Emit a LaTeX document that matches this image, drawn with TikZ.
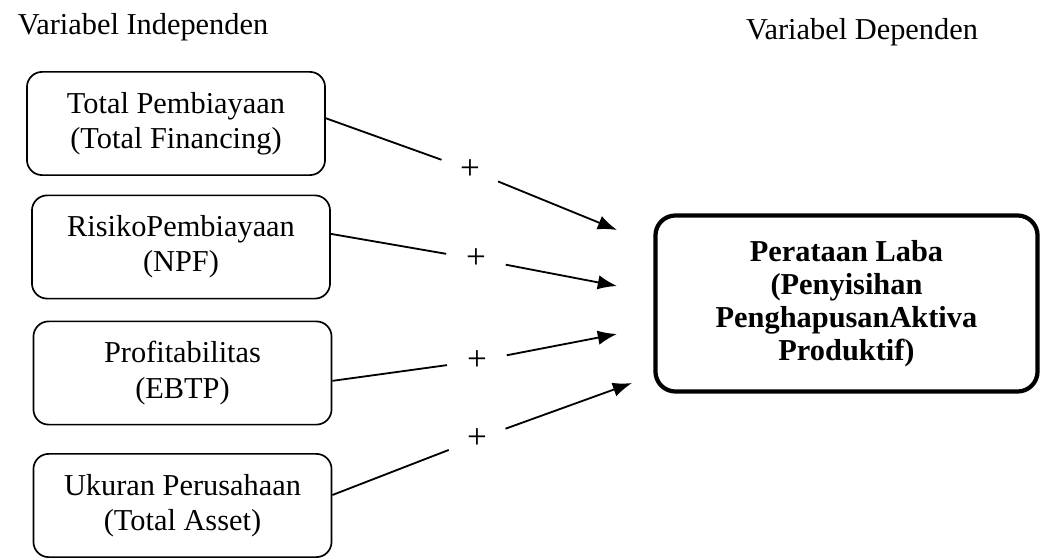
\documentclass[tikz,border=0pt]{standalone}
\usepackage{fontspec}
\setmainfont{Liberation Serif}
\usetikzlibrary{arrows.meta}
\tikzset{
  varbox/.style={draw, line width=1.2pt, rounded corners=0.38cm, minimum width=7.45cm, minimum height=2.58cm, align=center},
  depbox/.style={draw, line width=3pt, rounded corners=0.5cm, minimum width=9.55cm, minimum height=4.4cm, align=center, font=\bfseries\fontsize{21.6}{23.5}\selectfont},
  plus/.style={circle, minimum size=1.5cm, inner sep=0pt, font=\fontsize{25}{25}\selectfont},
  link/.style={line width=1.3pt},
}

\begin{document}
\begin{tikzpicture}[x=0.025cm, y=-0.025cm, font=\fontsize{21.6}{25}\selectfont]
    \useasboundingbox (0,0) rectangle (1048,558);
    \node[anchor=base] (indep) at (143,35) {Variabel Independen};
    \node[anchor=base] (dep) at (862,40) {Variabel Dependen};
    % independent variables
    \node[varbox] (total) at (176,123.5) {Total Pembiayaan\\(Total Financing)};
    \node[varbox] (risiko) at (181,247) {RisikoPembiayaan\\(NPF)};
    \node[varbox] (profit) at (182.5,373) {Profitabilitas\\(EBTP)};
    \node[varbox] (ukuran) at (182.5,505.5) {Ukuran Perusahaan\\(Total Asset)};
    % dependent variable
    \node[depbox] (laba) at (846.5,303.5) {Perataan Laba\\(Penyisihan\\PenghapusanAktiva\\Produktif)};
    \foreach \n/\x/\y in {t1/617/230, t2/617/286, t3/617/334, t4/632/383}
      \coordinate (\n) at (\x,\y);
    \foreach \n/\x/\y in {p1/470/170, p2/476/259, p3/477/361, p4/477/439}
      \node[plus] (\n) at (\x,\y) {+};
    \foreach \src/\via/\dst in {total.2/p1/t1, risiko.5/p2/t2, profit.-3/p3/t3, ukuran.4/p4/t4} {
      \draw[link] (\src) -- (\via);
      \draw[link, -{Latex[length=4.8mm,width=3.6mm]}] (\via) -- (\dst);
    }
\end{tikzpicture}
\end{document}
